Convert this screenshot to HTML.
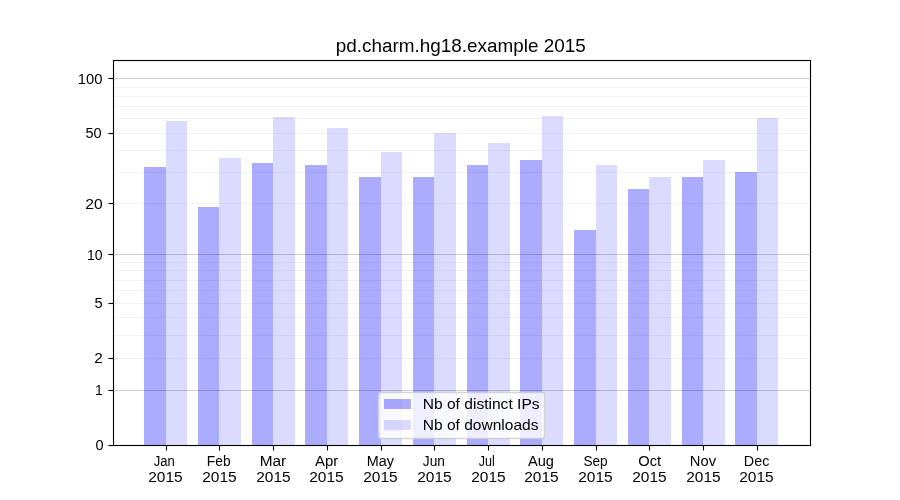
<!DOCTYPE html>
<html><head><meta charset="utf-8"><style>html,body{margin:0;padding:0;background:#fff;width:900px;height:500px;overflow:hidden}svg{display:block;font-family:"Liberation Sans",sans-serif}text{font-family:"Liberation Sans",sans-serif}</style></head><body><svg width="900" height="500" viewBox="0 0 900 500"><rect width="900" height="500" fill="#fff"/><rect x="144" y="167" width="22" height="278" fill="#0000ff" fill-opacity="0.3294"/><rect x="166" y="121" width="21" height="324" fill="#0000ff" fill-opacity="0.1412"/><rect x="198" y="207" width="21" height="238" fill="#0000ff" fill-opacity="0.3294"/><rect x="219" y="158" width="22" height="287" fill="#0000ff" fill-opacity="0.1412"/><rect x="252" y="163" width="21" height="282" fill="#0000ff" fill-opacity="0.3294"/><rect x="273" y="117" width="22" height="328" fill="#0000ff" fill-opacity="0.1412"/><rect x="305" y="165" width="22" height="280" fill="#0000ff" fill-opacity="0.3294"/><rect x="327" y="128" width="21" height="317" fill="#0000ff" fill-opacity="0.1412"/><rect x="359" y="177" width="22" height="268" fill="#0000ff" fill-opacity="0.3294"/><rect x="381" y="152" width="21" height="293" fill="#0000ff" fill-opacity="0.1412"/><rect x="413" y="177" width="21" height="268" fill="#0000ff" fill-opacity="0.3294"/><rect x="434" y="133" width="22" height="312" fill="#0000ff" fill-opacity="0.1412"/><rect x="467" y="165" width="21" height="280" fill="#0000ff" fill-opacity="0.3294"/><rect x="488" y="143" width="22" height="302" fill="#0000ff" fill-opacity="0.1412"/><rect x="520" y="160" width="22" height="285" fill="#0000ff" fill-opacity="0.3294"/><rect x="542" y="116" width="21" height="329" fill="#0000ff" fill-opacity="0.1412"/><rect x="574" y="230" width="22" height="215" fill="#0000ff" fill-opacity="0.3294"/><rect x="596" y="165" width="21" height="280" fill="#0000ff" fill-opacity="0.1412"/><rect x="628" y="189" width="21" height="256" fill="#0000ff" fill-opacity="0.3294"/><rect x="649" y="177" width="22" height="268" fill="#0000ff" fill-opacity="0.1412"/><rect x="682" y="177" width="21" height="268" fill="#0000ff" fill-opacity="0.3294"/><rect x="703" y="160" width="22" height="285" fill="#0000ff" fill-opacity="0.1412"/><rect x="735" y="172" width="22" height="273" fill="#0000ff" fill-opacity="0.3294"/><rect x="757" y="118" width="21" height="327" fill="#0000ff" fill-opacity="0.1412"/><line x1="113.5" y1="87.5" x2="810.5" y2="87.5" stroke="#000" stroke-opacity="0.047" stroke-width="1.11"/><line x1="113.5" y1="96.5" x2="810.5" y2="96.5" stroke="#000" stroke-opacity="0.047" stroke-width="1.11"/><line x1="113.5" y1="106.5" x2="810.5" y2="106.5" stroke="#000" stroke-opacity="0.047" stroke-width="1.11"/><line x1="113.5" y1="118.5" x2="810.5" y2="118.5" stroke="#000" stroke-opacity="0.047" stroke-width="1.11"/><line x1="113.5" y1="133.5" x2="810.5" y2="133.5" stroke="#000" stroke-opacity="0.047" stroke-width="1.11"/><line x1="113.5" y1="150.5" x2="810.5" y2="150.5" stroke="#000" stroke-opacity="0.047" stroke-width="1.11"/><line x1="113.5" y1="172.5" x2="810.5" y2="172.5" stroke="#000" stroke-opacity="0.047" stroke-width="1.11"/><line x1="113.5" y1="203.5" x2="810.5" y2="203.5" stroke="#000" stroke-opacity="0.047" stroke-width="1.11"/><line x1="113.5" y1="262.5" x2="810.5" y2="262.5" stroke="#000" stroke-opacity="0.047" stroke-width="1.11"/><line x1="113.5" y1="270.5" x2="810.5" y2="270.5" stroke="#000" stroke-opacity="0.047" stroke-width="1.11"/><line x1="113.5" y1="280.5" x2="810.5" y2="280.5" stroke="#000" stroke-opacity="0.047" stroke-width="1.11"/><line x1="113.5" y1="290.5" x2="810.5" y2="290.5" stroke="#000" stroke-opacity="0.047" stroke-width="1.11"/><line x1="113.5" y1="303.5" x2="810.5" y2="303.5" stroke="#000" stroke-opacity="0.047" stroke-width="1.11"/><line x1="113.5" y1="317.5" x2="810.5" y2="317.5" stroke="#000" stroke-opacity="0.047" stroke-width="1.11"/><line x1="113.5" y1="335.5" x2="810.5" y2="335.5" stroke="#000" stroke-opacity="0.047" stroke-width="1.11"/><line x1="113.5" y1="358.5" x2="810.5" y2="358.5" stroke="#000" stroke-opacity="0.047" stroke-width="1.11"/><line x1="113.5" y1="78.5" x2="810.5" y2="78.5" stroke="#000" stroke-opacity="0.188" stroke-width="1.11"/><line x1="113.5" y1="254.5" x2="810.5" y2="254.5" stroke="#000" stroke-opacity="0.188" stroke-width="1.11"/><line x1="113.5" y1="390.5" x2="810.5" y2="390.5" stroke="#000" stroke-opacity="0.188" stroke-width="1.11"/><rect x="113.5" y="60.5" width="697" height="385" fill="none" stroke="#000" stroke-width="1.11"/><line x1="108.5" y1="445.5" x2="113.5" y2="445.5" stroke="#000" stroke-width="1.11"/><line x1="108.5" y1="390.5" x2="113.5" y2="390.5" stroke="#000" stroke-width="1.11"/><line x1="108.5" y1="358.5" x2="113.5" y2="358.5" stroke="#000" stroke-width="1.11"/><line x1="108.5" y1="303.5" x2="113.5" y2="303.5" stroke="#000" stroke-width="1.11"/><line x1="108.5" y1="254.5" x2="113.5" y2="254.5" stroke="#000" stroke-width="1.11"/><line x1="108.5" y1="203.5" x2="113.5" y2="203.5" stroke="#000" stroke-width="1.11"/><line x1="108.5" y1="133.5" x2="113.5" y2="133.5" stroke="#000" stroke-width="1.11"/><line x1="108.5" y1="78.5" x2="113.5" y2="78.5" stroke="#000" stroke-width="1.11"/><line x1="166.5" y1="445.5" x2="166.5" y2="450.5" stroke="#000" stroke-width="1.11"/><line x1="219.5" y1="445.5" x2="219.5" y2="450.5" stroke="#000" stroke-width="1.11"/><line x1="273.5" y1="445.5" x2="273.5" y2="450.5" stroke="#000" stroke-width="1.11"/><line x1="327.5" y1="445.5" x2="327.5" y2="450.5" stroke="#000" stroke-width="1.11"/><line x1="381.5" y1="445.5" x2="381.5" y2="450.5" stroke="#000" stroke-width="1.11"/><line x1="434.5" y1="445.5" x2="434.5" y2="450.5" stroke="#000" stroke-width="1.11"/><line x1="488.5" y1="445.5" x2="488.5" y2="450.5" stroke="#000" stroke-width="1.11"/><line x1="542.5" y1="445.5" x2="542.5" y2="450.5" stroke="#000" stroke-width="1.11"/><line x1="596.5" y1="445.5" x2="596.5" y2="450.5" stroke="#000" stroke-width="1.11"/><line x1="649.5" y1="445.5" x2="649.5" y2="450.5" stroke="#000" stroke-width="1.11"/><line x1="703.5" y1="445.5" x2="703.5" y2="450.5" stroke="#000" stroke-width="1.11"/><line x1="757.5" y1="445.5" x2="757.5" y2="450.5" stroke="#000" stroke-width="1.11"/><g fill="#000" style="will-change:transform"><text x="95.43" y="450.00" font-size="14.72" textLength="8.14" lengthAdjust="spacingAndGlyphs">0</text><text x="94.94" y="395.00" font-size="14.72" textLength="7.74" lengthAdjust="spacingAndGlyphs">1</text><text x="94.23" y="363.00" font-size="14.72" textLength="8.55" lengthAdjust="spacingAndGlyphs">2</text><text x="94.41" y="308.00" font-size="14.72" textLength="8.21" lengthAdjust="spacingAndGlyphs">5</text><text x="86.93" y="260.00" font-size="14.72" textLength="15.62" lengthAdjust="spacingAndGlyphs">10</text><text x="85.21" y="209.00" font-size="14.72" textLength="17.40" lengthAdjust="spacingAndGlyphs">20</text><text x="85.42" y="138.00" font-size="14.72" textLength="16.15" lengthAdjust="spacingAndGlyphs">50</text><text x="77.87" y="84.00" font-size="14.72" textLength="24.71" lengthAdjust="spacingAndGlyphs">100</text><text x="153.80" y="466.00" font-size="14.72" textLength="21.05" lengthAdjust="spacingAndGlyphs">Jan</text><text x="148.22" y="482.00" font-size="14.72" textLength="34.43" lengthAdjust="spacingAndGlyphs">2015</text><text x="206.87" y="466.00" font-size="14.72" textLength="23.71" lengthAdjust="spacingAndGlyphs">Feb</text><text x="202.22" y="482.00" font-size="14.72" textLength="34.43" lengthAdjust="spacingAndGlyphs">2015</text><text x="259.74" y="466.00" font-size="14.72" textLength="26.52" lengthAdjust="spacingAndGlyphs">Mar</text><text x="256.22" y="482.00" font-size="14.72" textLength="34.43" lengthAdjust="spacingAndGlyphs">2015</text><text x="314.97" y="466.00" font-size="14.72" textLength="23.28" lengthAdjust="spacingAndGlyphs">Apr</text><text x="309.22" y="482.00" font-size="14.72" textLength="34.43" lengthAdjust="spacingAndGlyphs">2015</text><text x="366.82" y="466.00" font-size="14.72" textLength="27.21" lengthAdjust="spacingAndGlyphs">May</text><text x="363.22" y="482.00" font-size="14.72" textLength="34.43" lengthAdjust="spacingAndGlyphs">2015</text><text x="422.79" y="466.00" font-size="14.72" textLength="22.10" lengthAdjust="spacingAndGlyphs">Jun</text><text x="417.22" y="482.00" font-size="14.72" textLength="34.43" lengthAdjust="spacingAndGlyphs">2015</text><text x="478.80" y="466.00" font-size="14.72" textLength="16.04" lengthAdjust="spacingAndGlyphs">Jul</text><text x="471.22" y="482.00" font-size="14.72" textLength="34.43" lengthAdjust="spacingAndGlyphs">2015</text><text x="527.97" y="466.00" font-size="14.72" textLength="25.97" lengthAdjust="spacingAndGlyphs">Aug</text><text x="524.22" y="482.00" font-size="14.72" textLength="34.43" lengthAdjust="spacingAndGlyphs">2015</text><text x="583.38" y="466.00" font-size="14.72" textLength="24.19" lengthAdjust="spacingAndGlyphs">Sep</text><text x="578.22" y="482.00" font-size="14.72" textLength="34.43" lengthAdjust="spacingAndGlyphs">2015</text><text x="638.31" y="466.00" font-size="14.72" textLength="22.80" lengthAdjust="spacingAndGlyphs">Oct</text><text x="632.22" y="482.00" font-size="14.72" textLength="34.43" lengthAdjust="spacingAndGlyphs">2015</text><text x="689.79" y="466.00" font-size="14.72" textLength="26.26" lengthAdjust="spacingAndGlyphs">Nov</text><text x="686.22" y="482.00" font-size="14.72" textLength="34.43" lengthAdjust="spacingAndGlyphs">2015</text><text x="743.82" y="466.00" font-size="14.72" textLength="25.56" lengthAdjust="spacingAndGlyphs">Dec</text><text x="739.22" y="482.00" font-size="14.72" textLength="34.43" lengthAdjust="spacingAndGlyphs">2015</text><text x="335.78" y="52.00" font-size="17.66" textLength="250.01" lengthAdjust="spacingAndGlyphs">pd.charm.hg18.example 2015</text></g><g style="will-change:transform"><rect x="378.5" y="392.5" width="166" height="46" rx="2.8" fill="#fff" fill-opacity="0.8" stroke="#cccccc" stroke-opacity="0.8" stroke-width="1.39"/><rect x="384" y="399" width="27" height="10" fill="#0000ff" fill-opacity="0.3294"/><rect x="384" y="420" width="27" height="10" fill="#0000ff" fill-opacity="0.1412"/><text x="422.72" y="409.00" font-size="14.72" textLength="116.84" lengthAdjust="spacingAndGlyphs">Nb of distinct IPs</text><text x="422.72" y="430.00" font-size="14.72" textLength="115.84" lengthAdjust="spacingAndGlyphs">Nb of downloads</text></g></svg></body></html>
